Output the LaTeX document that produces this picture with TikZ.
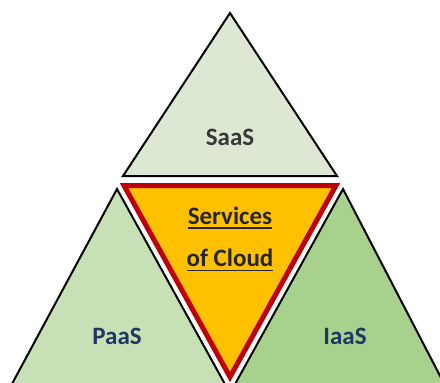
\documentclass[tikz,border=0pt]{standalone}
\usepackage{fontspec}
\setmainfont{Carlito}
\usetikzlibrary{positioning}
\definecolor{saasgreen}{HTML}{DDE8D4}
\definecolor{paasgreen}{HTML}{C7E0B5}
\definecolor{iaasgreen}{HTML}{A9D18E}
\definecolor{cloudorange}{HTML}{FFC000}
\definecolor{cloudred}{HTML}{C00000}
\definecolor{labelblue}{HTML}{1F3864}
\definecolor{labelgray}{HTML}{383838}
\newcommand{\cloudul}[1]{\vtop{\hbox{#1}\kern1.3pt\hrule height 0.9pt}}
\tikzset{
  tri/.style={draw=black, line width=1pt, line join=miter},
  lbl/.style={font=\bfseries\fontsize{12.5}{15}\selectfont},
}
\begin{document}
\begin{tikzpicture}[x=0.5pt, y=-0.5pt]
		\useasboundingbox (0,0) rectangle (440,382);
		\clip (0,0) rectangle (440,382);
		% the three outer triangles
		\coordinate (saastop) at (230,13);
		\coordinate (saasleft) at (123,176);
		\coordinate (saasright) at (337,176);
		\coordinate (paastop) at (117,189);
		\coordinate (paasleft) at (6,395);
		\coordinate (paasright) at (231,395);
		\coordinate (iaastop) at (343,189);
		\coordinate (iaasleft) at (229,395);
		\coordinate (iaasright) at (450,395);
		\filldraw [tri, fill=saasgreen] (saastop) -- (saasleft) -- (saasright) -- cycle;
		\filldraw [tri, fill=paasgreen] (paastop) -- (paasleft) -- (paasright) -- cycle;
		\filldraw [tri, fill=iaasgreen] (iaastop) -- (iaasleft) -- (iaasright) -- cycle;
		% the middle one
		\coordinate (cloudleft) at (124,185.5);
		\coordinate (cloudright) at (336,185.5);
		\coordinate (cloudbottom) at (230,377);
		\filldraw [draw=cloudred, line width=2.5pt, line join=miter, fill=cloudorange] (cloudleft) -- (cloudright) -- (cloudbottom) -- cycle;
		\node [lbl, text=labelgray] at (230,137) (saas) {SaaS};
		\node [lbl, text=labelblue] at (117,336) (paas) {PaaS};
		\node [lbl, text=labelblue] at (345,336) (iaas) {IaaS};
		\node [lbl, text=black!85] at (230,218) (services) {\cloudul{Services}};
		\node [lbl, text=black!85, below=3pt of services] (ofcloud) {\cloudul{of Cloud}};
		\end{tikzpicture}
\end{document}
